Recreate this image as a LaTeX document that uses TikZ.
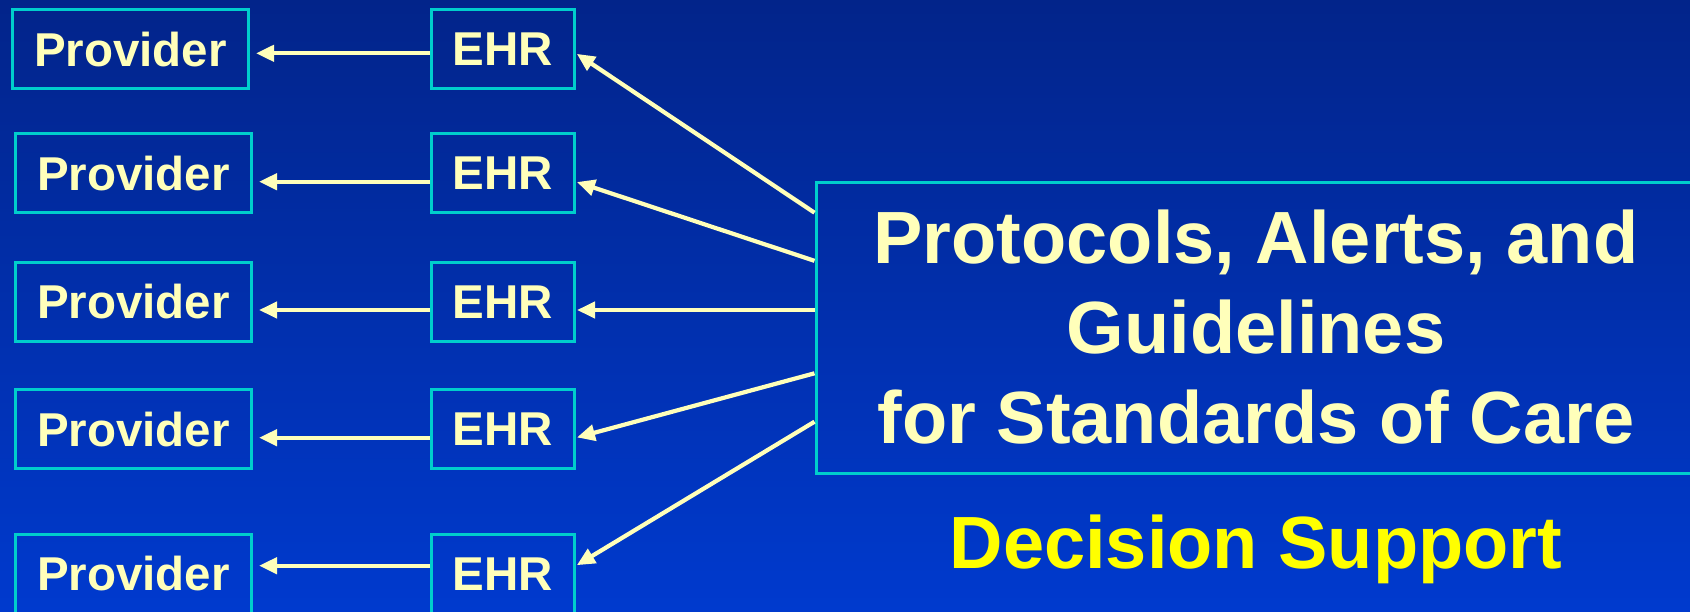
\documentclass[tikz,border=0pt]{standalone}
\usepackage{fontspec}
\setmainfont{Liberation Sans}
\usetikzlibrary{arrows.meta}
\definecolor{bgtop}{RGB}{2,36,138}
\definecolor{bgbot}{RGB}{0,58,206}
\definecolor{edge}{RGB}{0,206,204}
\definecolor{paleyellow}{RGB}{255,255,186}
\definecolor{brightyellow}{RGB}{255,255,0}
\tikzset{
  box/.style={draw=edge, line width=3pt, inner sep=0pt, text=paleyellow,
    font=\fontsize{47.5}{56}\selectfont\bfseries},
  provbox/.style={box, minimum width=236pt, minimum height=79pt},
  ehrbox/.style={box, minimum width=143pt, minimum height=79pt},
  bigbox/.style={box, minimum width=880pt, minimum height=291pt, align=center,
    font=\fontsize{74}{90}\selectfont\bfseries},
  arr/.style={draw=paleyellow, line width=4.2pt, -{Triangle[length=18pt,width=16pt]}}
}
\begin{document}
\begin{tikzpicture}[x=1pt,y=-1pt]
  % backdrop and page frame
  \shade[top color=bgtop, bottom color=bgbot] (0,0) rectangle (1690,611);
  \useasboundingbox (0,0) rectangle (1690,611);
  \clip (0,0) rectangle (1690,611);

  % providers
  \node[provbox] (p1) at (130.5,49.3) {Provider};
  \node[provbox] (p2) at (133.5,173.3) {Provider};
  \node[provbox] (p3) at (133.5,301.7) {Provider};
  \node[provbox] (p4) at (133.5,429.3) {Provider};
  \node[provbox] (p5) at (133.5,574) {Provider};

  % records
  \node[ehrbox] (e1) at (503,49.3) {EHR};
  \node[ehrbox] (e2) at (503,173.3) {EHR};
  \node[ehrbox] (e3) at (503,301.7) {EHR};
  \node[ehrbox] (e4) at (503,429.3) {EHR};
  \node[ehrbox] (e5) at (503,574) {EHR};

  % decision support source
  \node[bigbox] (dss) at (1256,327.5) {\raisebox{-3pt}{\parbox{860pt}{\centering Protocols, Alerts, and\\Guidelines\\for Standards of Care}}};
  \node[anchor=base, text=brightyellow, font=\fontsize{74}{90}\selectfont\bfseries]
    (label) at (1256,568) {Decision Support};

  % arrow heights for each row
  \coordinate (r1) at (0,53.3);
  \coordinate (r2) at (0,181.7);
  \coordinate (r3) at (0,310);
  \coordinate (r4) at (0,437.7);
  \coordinate (r5) at (0,565.7);
  % departure points on the source box
  \coordinate (s1) at (0,212.7);
  \coordinate (s2) at (0,260.8);
  \coordinate (s3) at (0,310);
  \coordinate (s4) at (0,373.3);
  \coordinate (s5) at (0,421.7);

  % source to records
  \foreach \i in {1,...,5}{
    \draw[arr, shorten >=1pt] (dss.west |- s\i) -- (e\i.east |- r\i);
  }
  % records to providers
  \foreach \i in {1,...,5}{
    \draw[arr, shorten >=6pt] (e\i.west |- r\i) -- (p\i.east |- r\i);
  }
\end{tikzpicture}
\end{document}
